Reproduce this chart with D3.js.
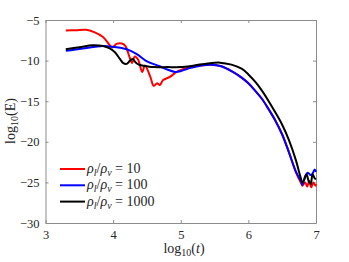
<!DOCTYPE html>
<html>
<head>
<meta charset="utf-8">
<script src="https://cdn.jsdelivr.net/npm/d3@7"></script>
<style>
  body { margin: 0; background: #fff; }
</style>
</head>
<body>
<div id="chart"></div>
<script>
// log10(t) and log10(E), one pair of arrays per run
const redT = [3.30, 3.45, 3.60, 3.72, 3.85, 3.95, 3.99, 4.05, 4.13, 4.18, 4.24, 4.28, 4.32, 4.37, 4.43, 4.47, 4.55, 4.60, 4.65, 4.69, 4.74, 4.84, 4.94, 5.09, 5.30, 5.45, 5.60, 5.77, 5.90, 6.00, 6.10, 6.20, 6.30, 6.40, 6.50, 6.60, 6.70, 6.78, 6.80, 6.84, 6.87, 6.90, 6.93, 6.96, 6.99, 7.00];
const redE = [-6.3, -6.25, -6.2, -6.5, -7.1, -8.1, -8.4, -7.95, -7.9, -8.2, -9.5, -10.3, -9.5, -9.9, -11.4, -10.6, -12.0, -13.1, -12.8, -13.0, -12.4, -12.0, -11.4, -10.9, -10.6, -10.5, -10.7, -11.4, -12.1, -12.8, -13.7, -14.7, -16.0, -17.4, -19.1, -21.3, -23.7, -25.1, -25.4, -25.0, -25.5, -24.8, -25.6, -25.0, -25.4, -25.2];

const blueT = [3.30, 3.55, 3.85, 4.00, 4.20, 4.35, 4.50, 4.69, 4.80, 4.92, 5.00, 5.10, 5.20, 5.30, 5.45, 5.60, 5.77, 5.90, 6.00, 6.10, 6.20, 6.30, 6.40, 6.50, 6.60, 6.70, 6.78, 6.80, 6.84, 6.88, 6.92, 6.95, 6.98, 7.00];
const blueE = [-8.8, -8.5, -8.2, -8.3, -8.6, -9.2, -10.1, -10.7, -11.1, -11.4, -11.3, -11.0, -10.8, -10.6, -10.5, -10.7, -11.4, -12.1, -12.8, -13.7, -14.7, -16.0, -17.4, -19.1, -21.3, -23.6, -24.9, -25.3, -24.2, -23.8, -24.1, -23.9, -23.4, -23.7];

const blackT = [3.30, 3.50, 3.70, 3.85, 3.95, 4.03, 4.10, 4.15, 4.20, 4.25, 4.29, 4.33, 4.38, 4.43, 4.50, 4.60, 4.80, 5.00, 5.20, 5.40, 5.58, 5.75, 5.90, 6.00, 6.10, 6.20, 6.30, 6.40, 6.50, 6.60, 6.70, 6.77, 6.80, 6.83, 6.86, 6.89, 6.92, 6.95, 6.98, 7.00];
const blackE = [-8.6, -8.35, -8.1, -8.2, -8.5, -9.0, -9.8, -10.3, -10.4, -10.0, -9.8, -10.2, -10.5, -10.6, -10.7, -10.8, -10.8, -10.8, -10.6, -10.35, -10.25, -10.5, -11.0, -11.7, -12.6, -13.7, -15.0, -16.4, -17.9, -19.8, -22.2, -24.3, -25.0, -24.6, -24.0, -24.8, -25.2, -24.0, -24.5, -24.6];

const ratios = ["10", "100", "1000"];
const colors = ["#ff0000", "#0000ff", "#000000"];
const xTicks = [3, 4, 5, 6, 7];
const yTicks = [-5, -10, -15, -20, -25, -30];

const series = [
  { t: redT, e: redE },
  { t: blueT, e: blueE },
  { t: blackT, e: blackE }
];

const W = 349, H = 262;
const m = { left: 45.5, right: 33, top: 20, bottom: 39 };
const serif = "'Liberation Serif', 'Times New Roman', 'DejaVu Serif', serif";

const svg = d3.select("#chart").append("svg")
  .attr("width", W).attr("height", H);

const x = d3.scaleLinear().domain([3, 7]).range([m.left, W - m.right]);
const y = d3.scaleLinear().domain([-30, -5]).range([H - m.bottom, m.top]);

const axisColor = "#8c8c8c";
const tickLen = 3;

// axes with inward ticks on all four sides (box on)
function styleAxis(g) {
  g.attr("font-family", serif).attr("font-size", 12.5);
  g.select(".domain").attr("stroke", axisColor);
  g.selectAll(".tick line").attr("stroke", axisColor);
  g.selectAll(".tick text").attr("fill", "#262626");
}

svg.append("g")
  .attr("transform", `translate(0,${y(-30)})`)
  .call(d3.axisBottom(x).tickValues(xTicks).tickSizeInner(-tickLen).tickSizeOuter(0).tickPadding(7).tickFormat(d3.format("d")))
  .call(styleAxis);

svg.append("g")
  .attr("transform", `translate(0,${y(-5)})`)
  .call(d3.axisTop(x).tickValues(xTicks).tickSizeInner(-tickLen).tickSizeOuter(0).tickFormat(""))
  .call(styleAxis);

svg.append("g")
  .attr("transform", `translate(${x(3)},0)`)
  .call(d3.axisLeft(y).tickValues(yTicks).tickSizeInner(-tickLen).tickSizeOuter(0).tickPadding(6).tickFormat(d3.format("d")))
  .call(styleAxis);

svg.append("g")
  .attr("transform", `translate(${x(7)},0)`)
  .call(d3.axisRight(y).tickValues(yTicks).tickSizeInner(-tickLen).tickSizeOuter(0).tickFormat(""))
  .call(styleAxis);

// curves
const line = d3.line()
  .x(d => x(d[0]))
  .y(d => y(d[1]))
  .curve(d3.curveCatmullRom.alpha(0.5));

series.forEach((s, i) => {
  svg.append("path")
    .datum(s.t.map((t, k) => [t, s.e[k]]))
    .attr("fill", "none")
    .attr("stroke", colors[i])
    .attr("stroke-width", 2)
    .attr("stroke-linejoin", "round")
    .attr("d", line);
});

// legend (no box)
const leg = svg.append("g").attr("transform", "translate(60,169)")
  .attr("font-family", serif).attr("fill", "#262626");
ratios.forEach((r, i) => {
  const row = leg.append("g").attr("transform", `translate(0,${i * 16.3})`);
  row.append("line")
    .attr("x1", 0).attr("x2", 25).attr("y1", 0).attr("y2", 0)
    .attr("stroke", colors[i]).attr("stroke-width", 2);
  const tx = row.append("text").attr("x", 27).attr("y", 4).attr("font-size", 14);
  tx.append("tspan").attr("font-style", "italic").text("ρ");
  tx.append("tspan").attr("font-style", "italic").attr("font-size", 10).attr("dy", 3).text("l");
  tx.append("tspan").attr("dy", -3).text("/");
  tx.append("tspan").attr("font-style", "italic").text("ρ");
  tx.append("tspan").attr("font-style", "italic").attr("font-size", 10).attr("dy", 3).text("v");
  tx.append("tspan").attr("dy", -3).text(" = " + r);
});

// axis labels
const xl = svg.append("text")
  .attr("x", 184).attr("y", 253)
  .attr("text-anchor", "middle").attr("font-size", 14)
  .attr("font-family", serif).attr("fill", "#262626");
xl.append("tspan").text("log");
xl.append("tspan").attr("font-size", 10).attr("dy", 3).text("10");
xl.append("tspan").attr("dy", -3).text("(");
xl.append("tspan").attr("font-style", "italic").text("t");
xl.append("tspan").text(")");

const yl = svg.append("text")
  .attr("transform", "translate(15,121) rotate(-90)")
  .attr("text-anchor", "middle").attr("font-size", 14)
  .attr("font-family", serif).attr("fill", "#262626");
yl.append("tspan").text("log");
yl.append("tspan").attr("font-size", 10).attr("dy", 3).text("10");
yl.append("tspan").attr("dy", -3).text("(E)");
</script>
</body>
</html>
